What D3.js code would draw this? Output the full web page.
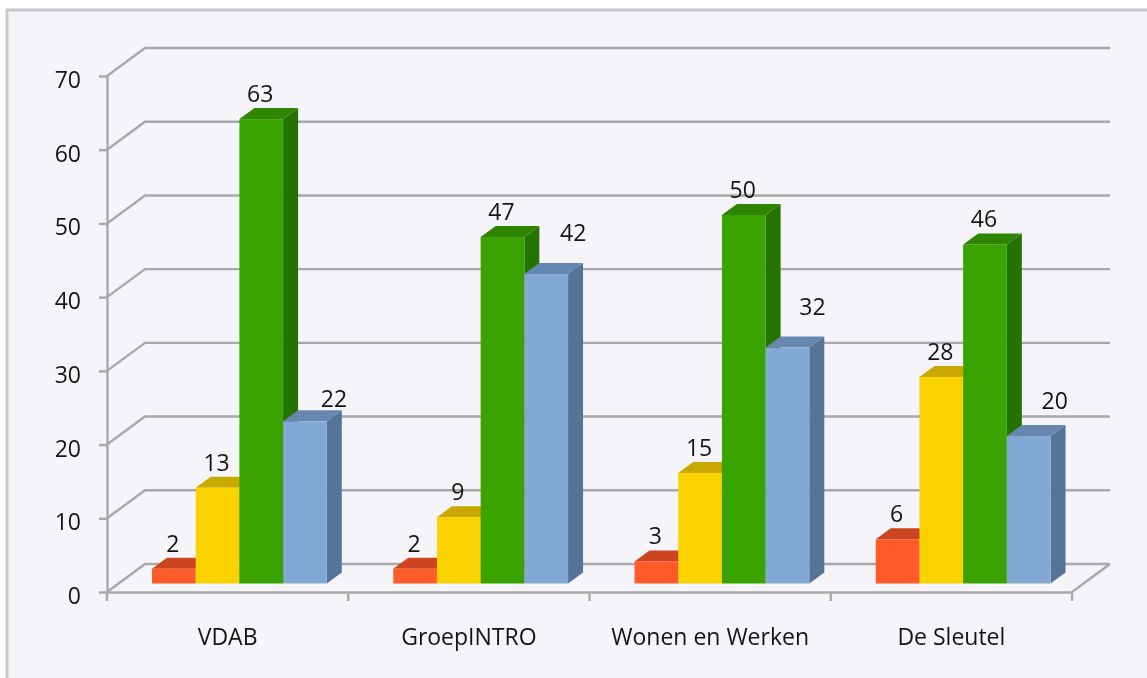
<!DOCTYPE html>
<html>
<head>
<meta charset="utf-8">
<script src="https://cdn.jsdelivr.net/npm/d3@7"></script>
<style>
  html, body { margin: 0; padding: 0; background: #fff; overflow: hidden; }
  svg { display: block; filter: blur(0.6px); }
  text { font-family: "Open Sans", sans-serif; font-size: 23px; fill: #141414; }
  .axis .domain, .axis line { stroke: #a8a8a8; stroke-width: 2.4; }
</style>
</head>
<body>
<div id="chart"></div>
<script>
const categories = ["VDAB", "GroepINTRO", "Wonen en Werken", "De Sleutel"];
const seriesNames = ["rood", "geel", "groen", "blauw"];
const rood = [2, 2, 3, 6];
const geel = [13, 9, 15, 28];
const groen = [63, 47, 50, 46];
const blauw = [22, 42, 32, 20];
const yTicks = [0, 10, 20, 30, 40, 50, 60, 70];

const width = 1147;
const height = 678;
const margin = { top: 76, right: 75, bottom: 86, left: 107 };
const depth = { x: 38, y: 28 };       // wall and floor depth
const barDepth = { x: 15, y: 11 };    // depth of one bar
const inset = { x: 45, y: 8.5 };      // bars stand a little way in on the floor
const barW = 43.7;

const colors = {
  rood:  { front: "#ff5a2a", top: "#cc4520", side: "#b8401e" },
  geel:  { front: "#fad200", top: "#c9a800", side: "#b89a00" },
  groen: { front: "#3aa300", top: "#2f8500", side: "#257300" },
  blauw: { front: "#82a8d4", top: "#6688b0", side: "#56749a" }
};

const svg = d3.select("#chart")
  .append("svg")
  .attr("width", width)
  .attr("height", height);

// Background panels
svg.append("rect")
  .attr("x", 7).attr("y", 10)
  .attr("width", width).attr("height", height)
  .attr("fill", "#f4f3f7")
  .attr("stroke", "#c8c8c8")
  .attr("stroke-width", 3);

svg.append("rect")
  .attr("x", 38).attr("y", 40)
  .attr("width", 1080).attr("height", 616)
  .attr("fill", "#f5f5f9");

// Scales
const x = d3.scaleBand()
  .domain(categories)
  .range([margin.left, width - margin.right]);

const y = d3.scaleLinear()
  .domain([0, 70])
  .range([height - margin.bottom, margin.top]);

const xBar = d3.scaleBand()
  .domain(seriesNames)
  .range([0, barW * seriesNames.length]);

// Gridlines on the back wall and the left wall
const grid = svg.append("g")
  .attr("fill", "none")
  .attr("stroke", "#a8a8a8")
  .attr("stroke-width", 2.4);

yTicks.forEach(t => {
  grid.append("path")
    .attr("d", `M${margin.left},${y(t)}L${margin.left + depth.x},${y(t) - depth.y}H${width - margin.right + depth.x}`);
});

// Right edge of the floor
grid.append("path")
  .attr("d", `M${width - margin.right},${y(0)}L${width - margin.right + depth.x},${y(0) - depth.y}`);

// Axes
const yAxis = d3.axisLeft(y)
  .tickValues(yTicks)
  .tickSize(8)
  .tickSizeOuter(0)
  .tickPadding(18);

const yAxisG = svg.append("g")
  .attr("class", "axis")
  .attr("transform", `translate(${margin.left},0)`)
  .call(yAxis);

yAxisG.selectAll("text").attr("dy", "0.5em");

const xAxis = d3.axisBottom(x)
  .tickSize(0)
  .tickPadding(37);

const xAxisG = svg.append("g")
  .attr("class", "axis")
  .attr("transform", `translate(0,${y(0)})`)
  .call(xAxis);

// Category separators sit between the bands
xAxisG.selectAll(".sep")
  .data(categories.concat(["end"]))
  .enter().append("line")
  .attr("class", "sep")
  .attr("x1", (d, i) => margin.left + i * x.bandwidth())
  .attr("x2", (d, i) => margin.left + i * x.bandwidth())
  .attr("y1", 0)
  .attr("y2", 9);

svg.selectAll(".axis text").style("font-size", "23px").style("font-family", '"Open Sans", sans-serif');

// Bars, drawn left to right so the next front hides the previous side
const rows = [rood, geel, groen, blauw];
const barTop = v => y(v) - inset.y;
const base = y(0) - inset.y;

categories.forEach((cat, c) => {
  const g = svg.append("g");
  seriesNames.forEach((name, s) => {
    const v = rows[s][c];
    const x0 = x(cat) + inset.x + xBar(name);
    const x1 = x0 + xBar.bandwidth();
    const t = barTop(v);
    const col = colors[name];

    g.append("path")
      .attr("fill", col.side)
      .attr("d", `M${x1},${t}L${x1 + barDepth.x},${t - barDepth.y}V${base - barDepth.y}L${x1},${base}Z`);
    g.append("path")
      .attr("fill", col.top)
      .attr("d", `M${x0},${t}L${x0 + barDepth.x},${t - barDepth.y}H${x1 + barDepth.x}L${x1},${t}Z`);
    g.append("rect")
      .attr("x", x0)
      .attr("y", t)
      .attr("width", xBar.bandwidth())
      .attr("height", base - t)
      .attr("fill", col.front);
  });
});

// Value labels. The blue ones were moved by hand in the original
const blueNudge = [[30, 3], [28, -16], [26, -16], [27, -10]];

categories.forEach((cat, c) => {
  seriesNames.forEach((name, s) => {
    const v = rows[s][c];
    const nudge = name === "blauw" ? blueNudge[c] : [0, 0];
    svg.append("text")
      .attr("x", x(cat) + inset.x + xBar(name) + xBar.bandwidth() / 2 - 1 + nudge[0])
      .attr("y", barTop(v) - 25 + nudge[1])
      .attr("dy", "0.35em")
      .attr("text-anchor", "middle")
      .text(v);
  });
});
</script>
</body>
</html>
